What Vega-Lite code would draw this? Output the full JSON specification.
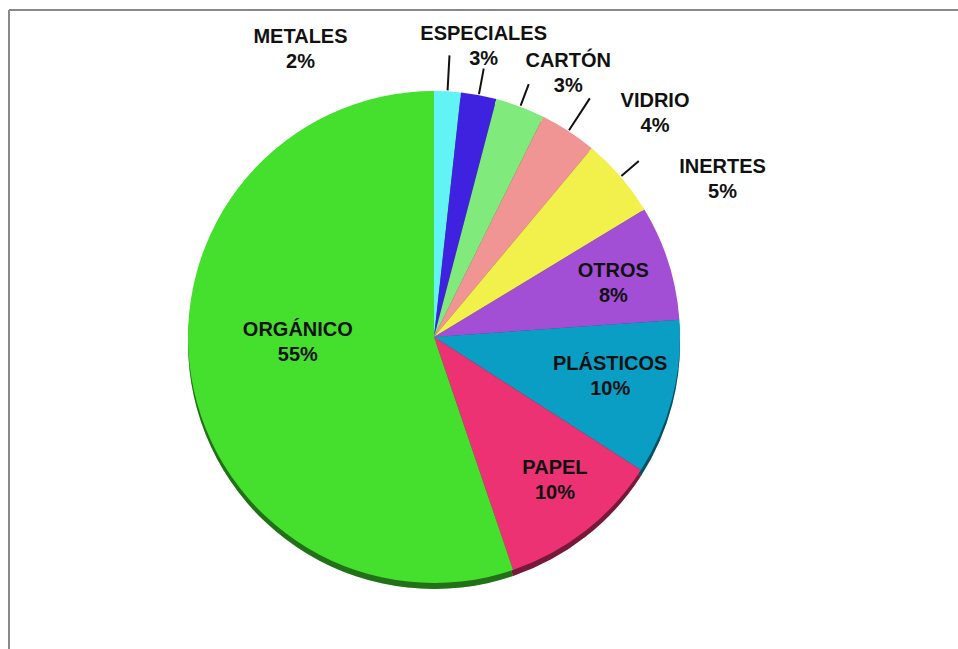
{
  "$schema": "https://vega.github.io/schema/vega-lite/v6.json",
  "width": 951,
  "height": 641,
  "autosize": {"type": "none"},
  "padding": {"left": 9, "top": 10, "right": -2, "bottom": -2},
  "background": "white",
  "config": {"view": {"stroke": null}},
  "data": {
    "values": [
      {"n": 1, "name": "METALES", "pct": 1.75, "txt": "2%"},
      {"n": 2, "name": "ESPECIALES", "pct": 2.33, "txt": "3%"},
      {"n": 3, "name": "CARTÓN", "pct": 3.25, "txt": "3%"},
      {"n": 4, "name": "VIDRIO", "pct": 3.75, "txt": "4%"},
      {"n": 5, "name": "INERTES", "pct": 5.25, "txt": "5%"},
      {"n": 6, "name": "OTROS", "pct": 7.56, "txt": "8%"},
      {"n": 7, "name": "PLÁSTICOS", "pct": 10.2, "txt": "10%"},
      {"n": 8, "name": "PAPEL", "pct": 10.7, "txt": "10%"},
      {"n": 9, "name": "ORGÁNICO", "pct": 55.21, "txt": "55%"}
    ]
  },
  "layer": [
    {
      "mark": {"type": "rule", "color": "#888888", "strokeWidth": 2},
      "encoding": {"y": {"value": 0}}
    },
    {
      "mark": {"type": "rule", "color": "#888888", "strokeWidth": 2},
      "encoding": {"x": {"value": 0}}
    },
    {
      "mark": {"type": "arc", "outerRadius": 246, "x": 425, "y": 327, "yOffset": 6},
      "encoding": {
        "theta": {"field": "pct", "type": "quantitative", "stack": true},
        "order": {"field": "n", "type": "quantitative"},
        "color": {
          "field": "name", "type": "nominal", "legend": null,
          "scale": {
            "domain": ["METALES", "ESPECIALES", "CARTÓN", "VIDRIO", "INERTES", "OTROS", "PLÁSTICOS", "PAPEL", "ORGÁNICO"],
            "range": ["#62f4f4", "#3e22e0", "#80ea7c", "#f09494", "#f2f04a", "#a24fd6", "#0a9ec4", "#ec3272", "#45e02e"]
          }
        }
      }
    },
    {
      "mark": {"type": "arc", "outerRadius": 246, "x": 425, "y": 327, "yOffset": 6, "fill": "#000000", "fillOpacity": 0.5},
      "encoding": {
        "theta": {"field": "pct", "type": "quantitative", "stack": true},
        "order": {"field": "n", "type": "quantitative"}
      }
    },
    {
      "mark": {"type": "arc", "outerRadius": 246, "x": 425, "y": 327},
      "encoding": {
        "theta": {"field": "pct", "type": "quantitative", "stack": true},
        "order": {"field": "n", "type": "quantitative"},
        "color": {"field": "name", "type": "nominal", "legend": null}
      }
    },
    {
      "mark": {
        "type": "arc", "innerRadius": 247, "x": 425, "y": 327, "padAngle": 1.2,
        "outerRadius": {"expr": "datum.name==='METALES'?282:datum.name==='ESPECIALES'?273:datum.name==='VIDRIO'?285:270"},
        "filled": false, "stroke": "#111111", "strokeWidth": 2
      },
      "encoding": {
        "theta": {"field": "pct", "type": "quantitative", "stack": true},
        "order": {"field": "n", "type": "quantitative"},
        "strokeOpacity": {"condition": {"test": "datum.pct < 6", "value": 1}, "value": 0}
      }
    },
    {
      "mark": {
        "type": "text", "x": 425, "y": 327,
        "font": "Liberation Sans", "fontWeight": "bold", "fontSize": 20, "color": "#111111",
        "radius": {"expr": "datum.pct < 6 ? 300 : datum.pct > 50 ? 140 : 185"},
        "dx": {"expr": "datum.name==='METALES'?-150:datum.name==='ESPECIALES'?-5:datum.name==='CARTÓN'?29:datum.name==='VIDRIO'?57:datum.name==='INERTES'?61:datum.name==='ORGÁNICO'?2:datum.name==='PLÁSTICOS'?-3:datum.name==='PAPEL'?7:3"},
        "dy": {"expr": "(datum.name==='METALES'?12:datum.name==='ESPECIALES'?4:datum.name==='CARTÓN'?17:datum.name==='VIDRIO'?27:datum.name==='INERTES'?37:datum.name==='ORGÁNICO'?-18:datum.name==='PLÁSTICOS'?-7:datum.name==='PAPEL'?-3:2) - 12"}
      },
      "encoding": {
        "theta": {"field": "pct", "type": "quantitative", "stack": true},
        "order": {"field": "n", "type": "quantitative"},
        "text": {"field": "name"}
      }
    },
    {
      "mark": {
        "type": "text", "x": 425, "y": 327,
        "font": "Liberation Sans", "fontWeight": "bold", "fontSize": 20, "color": "#111111",
        "radius": {"expr": "datum.pct < 6 ? 300 : datum.pct > 50 ? 140 : 185"},
        "dx": {"expr": "datum.name==='METALES'?-150:datum.name==='ESPECIALES'?-5:datum.name==='CARTÓN'?29:datum.name==='VIDRIO'?57:datum.name==='INERTES'?61:datum.name==='ORGÁNICO'?2:datum.name==='PLÁSTICOS'?-3:datum.name==='PAPEL'?7:3"},
        "dy": {"expr": "(datum.name==='METALES'?12:datum.name==='ESPECIALES'?4:datum.name==='CARTÓN'?17:datum.name==='VIDRIO'?27:datum.name==='INERTES'?37:datum.name==='ORGÁNICO'?-18:datum.name==='PLÁSTICOS'?-7:datum.name==='PAPEL'?-3:2) + 13"}
      },
      "encoding": {
        "theta": {"field": "pct", "type": "quantitative", "stack": true},
        "order": {"field": "n", "type": "quantitative"},
        "text": {"field": "txt"}
      }
    }
  ]
}
